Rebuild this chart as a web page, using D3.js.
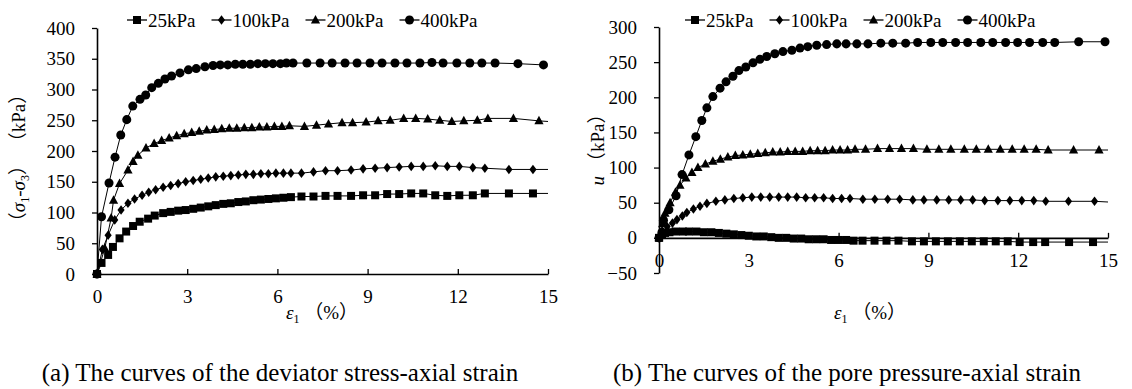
<!DOCTYPE html>
<html>
<head>
<meta charset="utf-8">
<script src="https://cdn.jsdelivr.net/npm/d3@7"></script>
<style>
  body { margin: 0; background: #fff; }
  svg { display: block; }
  text { font-family: "Liberation Serif", "Times New Roman", "Noto Sans CJK SC", serif; fill: #000; }
</style>
</head>
<body>
<svg width="1132" height="389"></svg>
<script>
const seriesNames = ["25kPa", "100kPa", "200kPa", "400kPa"]
const markerTypes = ["square", "diamond", "triangle", "circle"]
// last point of these series is drawn as line only (no marker)
const tailNoMarker = [true, true, true, false]
const strainTicks = [0, 3, 6, 9, 12, 15]

// (a) deviator stress vs axial strain
const stressTicks = [0, 50, 100, 150, 200, 250, 300, 350, 400]
const strainA25 = [0,0.15,0.37,0.53,0.75,0.97,1.2,1.42,1.7,1.92,2.2,2.45,2.7,2.95,3.2,3.45,3.7,3.95,4.2,4.45,4.7,4.95,5.2,5.45,5.7,5.95,6.2,6.45,
    6.8,7.2,7.6,8.0,8.45,8.85,9.25,9.65,10.05,10.45,10.85,11.25,11.65,12.05,12.5,12.9,13.7,14.5,15]
const stressA25 = [0,18,31,44,58,69,78,85,90,95,99,101,103,104,106,108,110,112,114,115,117,118,120,121,122,123,124,125,
    126,126,127,127,127,128,128,130,130,131,131,128,127,128,128,131,131,131,131]
const strainA100 = [0,0.18,0.37,0.59,0.8,1.03,1.25,1.5,1.72,1.95,2.2,2.45,2.7,2.95,3.2,3.45,3.7,3.95,4.2,4.45,4.7,4.95,5.2,5.45,5.7,5.95,6.2,6.45,
    6.8,7.2,7.6,8.0,8.45,8.85,9.25,9.65,10.05,10.45,10.85,11.25,11.65,12.05,12.5,12.9,13.7,14.5,15]
const stressA100 = [0,40,63,88,104,115,122,128,133,137,141,144,147,150,152,154,156,158,159,160,161,162,162,163,163,164,164,164,
    164,166,168,168,169,171,172,173,174,175,175,176,175,175,173,172,170,170,170]
const strainA200 = [0,0.26,0.47,0.55,0.75,1.03,1.2,1.36,1.63,1.9,2.15,2.4,2.65,2.9,3.15,3.4,3.65,3.9,4.15,4.4,4.65,4.9,5.15,5.4,5.65,5.9,6.15,6.4,
    6.9,7.3,7.7,8.15,8.5,8.95,9.35,9.75,10.2,10.6,11.0,11.4,11.8,12.2,12.65,13.0,13.85,14.7,15]
const stressA200 = [0,42,91,120,147,169,183,193,205,212,217,221,225,228,230,232,234,235,236,237,237,238,238,239,239,240,240,241,
    240,242,244,246,246,247,249,250,253,253,252,250,248,249,250,253,253,249,248]
const strainA400 = [0,0.15,0.4,0.6,0.79,0.99,1.19,1.43,1.62,1.82,2.04,2.26,2.48,2.76,3.04,3.3,3.59,3.86,4.1,4.35,4.6,4.85,5.1,5.35,5.6,5.85,6.1,6.3,6.52,
    6.98,7.42,7.82,8.25,8.65,9.08,9.48,9.91,10.31,10.74,11.14,11.51,11.97,12.4,12.8,13.24,14.0,14.85]
const stressA400 = [0,93,148,190,226,251,273,284,291,303,310,317,322,327,332,334,337,339,340,340,341,341,341,342,342,342,342,343,343,
    343,343,343,343,343,343,343,343,343,343,344,343,343,343,343,343,342,340]

// (b) pore pressure vs axial strain
const poreTicks = [-50, 0, 50, 100, 150, 200, 250, 300]
const strainB25 = [0,0.1,0.2,0.35,0.55,0.8,1.0,1.25,1.5,1.75,2.0,2.25,2.5,2.75,3.0,3.25,3.5,3.75,4.0,4.25,4.5,4.75,5.0,5.25,5.5,5.75,6.0,6.25,6.5,
    6.8,7.2,7.6,8.0,8.45,8.85,9.25,9.65,10.05,10.45,10.85,11.25,11.65,12.05,12.5,12.9,13.7,14.5,15]
const poreB25 = [0,4,7,8,9,9,9,9,8,8,7,6,5,4,3,2,2,1,0,0,-1,-1,-2,-2,-2,-3,-3,-3,-4,
    -4,-4,-4,-4,-5,-5,-5,-5,-5,-5,-5,-5,-5,-6,-6,-6,-6,-6,-6]
const strainB100 = [0,0.15,0.27,0.45,0.6,0.78,0.93,1.15,1.37,1.6,1.9,2.2,2.5,2.8,3.1,3.4,3.7,4.0,4.3,4.6,4.9,5.2,5.5,5.8,6.1,6.38,
    6.81,7.21,7.64,8.04,8.48,8.85,9.28,9.68,10.08,10.48,10.88,11.32,11.72,12.12,12.52,12.92,13.68,14.55,15]
const poreB100 = [0,8,16,21,26,31,36,41,45,49,52,54,56,57,58,58,58,58,58,58,57,57,57,56,56,56,
    55,55,55,55,54,54,54,54,54,54,53,53,53,53,53,52,52,52,51]
const strainB200 = [0,0.12,0.2,0.37,0.55,0.7,0.9,1.1,1.3,1.55,1.8,2.05,2.3,2.55,2.8,3.05,3.3,3.55,3.8,4.05,4.3,4.55,4.8,5.05,5.3,5.55,5.8,6.05,6.3,6.55,
    6.9,7.3,7.7,8.1,8.5,8.95,9.35,9.75,10.2,10.6,11.0,11.4,11.8,12.2,12.6,13.0,13.85,14.7,15]
const poreB200 = [0,20,35,50,65,75,85,93,100,105,109,112,115,117,118,119,120,121,122,122,123,123,123,124,124,124,125,125,125,126,
    126,127,127,127,127,126,126,126,126,126,126,126,126,126,126,125,125,125,125]
const strainB400 = [0,0.1,0.15,0.33,0.57,0.77,1.0,1.23,1.43,1.6,1.8,2.04,2.24,2.47,2.67,2.9,3.14,3.37,3.6,3.87,4.14,4.44,4.71,4.97,5.27,5.6,5.94,6.25,6.61,
    6.98,7.41,7.81,8.24,8.64,9.08,9.48,9.91,10.31,10.75,11.15,11.58,11.98,12.38,12.82,13.22,14.02,14.9]
const poreB400 = [0,8,25,40,60,90,118,144,167,185,201,213,222,230,238,243,249,254,258,262,265,267,270,272,274,275,276,276,276,
    276,277,277,277,278,278,278,278,278,278,278,278,278,278,278,278,279,279]

const svg = d3.select("svg")

function markerPath(type) {
    switch (type) {
        case "square": return "M-4,-4h8v8h-8Z"
        case "diamond": return "M0,-4.8L3.6,0L0,4.8L-3.6,0Z"
        case "triangle": return "M0,-5L4.6,3.5L-4.6,3.5Z"
        default: return d3.symbol(d3.symbolCircle, 64)()
    }
}

function drawPanel(p) {
    const g = svg.append("g")
    const x = d3.scaleLinear().domain([0, 15]).range(p.xRange)
    const y = d3.scaleLinear().domain(p.yDomain).range(p.yRange)

    // axes
    const xAxis = g.append("g")
        .attr("transform", `translate(0,${y(0)})`)
        .call(d3.axisBottom(x).tickValues(strainTicks).tickSizeInner(-5).tickSizeOuter(0).tickPadding(16))
    const yAxis = g.append("g")
        .attr("transform", `translate(${x(0)},0)`)
        .call(d3.axisLeft(y).tickValues(p.yTicks).tickSizeInner(5).tickSizeOuter(0).tickPadding(17))
    for (const ax of [xAxis, yAxis]) {
        ax.attr("font-family", null).attr("font-size", null)
        ax.select(".domain").attr("stroke", "#000").attr("stroke-width", 1.6)
        ax.selectAll(".tick line").attr("stroke", "#000").attr("stroke-width", 1.3)
        ax.selectAll(".tick text").style("font-size", "19px")
    }

    // series
    p.series.forEach((s, i) => {
        const pts = s.strain.map((e, k) => [e, s.value[k]])
        g.append("path").datum(pts)
            .attr("fill", "none").attr("stroke", "#000").attr("stroke-width", 1)
            .attr("d", d3.line().x(d => x(d[0])).y(d => y(d[1])))
        const marked = tailNoMarker[i] ? pts.slice(0, -1) : pts
        g.append("g").selectAll("path")
            .data(marked)
            .enter().append("path")
            .attr("transform", d => `translate(${x(d[0])},${y(d[1])})`)
            .attr("d", markerPath(markerTypes[i]))
            .attr("fill", "#000")
    })

    // legend
    let lx = p.legendX
    seriesNames.forEach((name, i) => {
        const lg = svg.append("g").attr("transform", `translate(${lx},20)`)
        lg.append("line").attr("x1", 0).attr("x2", 20).attr("stroke", "#000").attr("stroke-width", 1.3)
        lg.append("path").attr("transform", "translate(10,0)").attr("d", markerPath(markerTypes[i])).attr("fill", "#000")
        const t = lg.append("text").attr("x", 21).attr("dy", "0.35em").style("font-size", "19px").text(name)
        lx += 21 + t.node().getComputedTextLength() + 16
    })

    // x title
    const xt = svg.append("text").attr("x", p.xTitleX).attr("y", 319)
        .attr("text-anchor", "middle").style("font-size", "19px")
    xt.append("tspan").style("font-style", "italic").text("ε")
    xt.append("tspan").attr("dy", 4).style("font-size", "12px").text("1")
    xt.append("tspan").attr("dy", -4).text(" （%）")

    // caption
    svg.append("text").attr("x", p.captionX).attr("y", 381)
        .attr("text-anchor", "middle").style("font-size", "25px").text(p.caption)
    return g
}

drawPanel({
    xRange: [97, 548], yDomain: [0, 400], yRange: [274, 28], yTicks: stressTicks,
    series: [
        { strain: strainA25, value: stressA25 },
        { strain: strainA100, value: stressA100 },
        { strain: strainA200, value: stressA200 },
        { strain: strainA400, value: stressA400 }
    ],
    legendX: 127, xTitleX: 322, captionX: 280,
    caption: "(a) The curves of the deviator stress-axial strain"
})

drawPanel({
    xRange: [659, 1108], yDomain: [-50, 300], yRange: [273, 27], yTicks: poreTicks,
    series: [
        { strain: strainB25, value: poreB25 },
        { strain: strainB100, value: poreB100 },
        { strain: strainB200, value: poreB200 },
        { strain: strainB400, value: poreB400 }
    ],
    legendX: 685, xTitleX: 870, captionX: 847,
    caption: "(b) The curves of the pore pressure-axial strain"
})

// y titles (rotated)
const yt1 = svg.append("text")
    .attr("transform", "translate(25,158) rotate(-90)")
    .attr("text-anchor", "middle").style("font-size", "19px")
yt1.append("tspan").text("（")
yt1.append("tspan").style("font-style", "italic").text("σ")
yt1.append("tspan").attr("dy", 4).style("font-size", "12px").text("1")
yt1.append("tspan").attr("dy", -4).text("-")
yt1.append("tspan").style("font-style", "italic").text("σ")
yt1.append("tspan").attr("dy", 4).style("font-size", "12px").text("3")
yt1.append("tspan").attr("dy", -4).text("） （kPa）")

const yt2 = svg.append("text")
    .attr("transform", "translate(604,145) rotate(-90)")
    .attr("text-anchor", "middle").style("font-size", "19px")
yt2.append("tspan").style("font-style", "italic").text("u")
yt2.append("tspan").text(" （kPa）")
</script>
</body>
</html>
